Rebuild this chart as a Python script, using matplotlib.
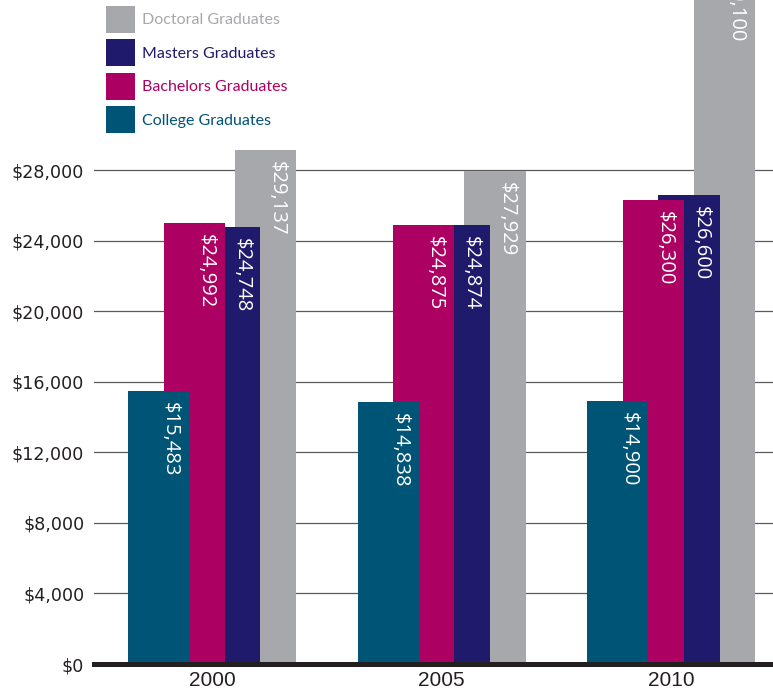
import matplotlib
matplotlib.use('Agg')
import matplotlib.pyplot as plt
import numpy as np

# ---- data ----
years = ['2000', '2005', '2010']
college = [15483, 14838, 14900]
bachelors = [24992, 24875, 26300]
masters = [24748, 24874, 26600]
doctoral = [29137, 27929, 40100]
series_names = ['College Graduates', 'Bachelors Graduates', 'Masters Graduates', 'Doctoral Graduates']
y_ticks = [0, 4000, 8000, 12000, 16000, 20000, 24000, 28000]

# ---- style ----
colors = ['#005475', '#ad0063', '#1f1a6b', '#a7a8ac']
offsets = [-0.233, -0.078, 0.078, 0.233]
bar_width = 0.266
zorders = [5, 4, 3, 2]
text_dark = '#231f20'

fig = plt.figure(figsize=(7.73, 6.95), dpi=100)
ax = fig.add_axes([94 / 773, 31 / 695, 679 / 773, 664 / 695])

x = np.arange(len(years))
series = [college, bachelors, masters, doctoral]
handles = []
for vals, name, c, off, z in zip(series, series_names, colors, offsets, zorders):
    bars = ax.bar(x + off, vals, bar_width, color=c, zorder=z, label=name, linewidth=0)
    handles.append(bars)
    for rect, v in zip(bars, vals):
        ax.annotate(f'${v:,}', xy=(rect.get_x() + rect.get_width(), v),
                    xytext=(-13.7, -7.9), textcoords='offset points',
                    ha='center', va='top', rotation=-90, color='white',
                    fontsize=14.5, family='Open Sans', zorder=10,
                    annotation_clip=False)

ax.set_xlim(-0.514, 2.444)
ax.set_ylim(0, 37640)
ax.set_yticks(y_ticks)
ax.set_yticklabels([f'${t:,}' for t in y_ticks], family='DejaVu Sans', fontsize=12.6, color=text_dark)
ax.set_xticks(x)
ax.set_xticklabels(years, family='Liberation Sans', fontsize=15, color=text_dark)
ax.tick_params(axis='y', length=0, pad=7)
ax.tick_params(axis='x', length=0, pad=5)
for s in ax.spines.values():
    s.set_visible(False)
ax.set_axisbelow(True)
ax.yaxis.grid(True, color='#5a5a5a', lw=0.9, zorder=0)
ax.axhline(0, color=text_dark, lw=3.6, zorder=8, clip_on=False)

leg = ax.legend(handles[::-1], series_names[::-1], loc='upper left',
                bbox_to_anchor=(106 / 773, 1 - 6 / 695), bbox_transform=fig.transFigure,
                frameon=False, borderpad=0, borderaxespad=0,
                prop={'family': 'Lato', 'size': 11.5},
                handlelength=1.81, handleheight=2.22, labelspacing=0.4, handletextpad=0.44,
                labelcolor=colors[::-1])

fig.savefig('out.png', dpi=100)
